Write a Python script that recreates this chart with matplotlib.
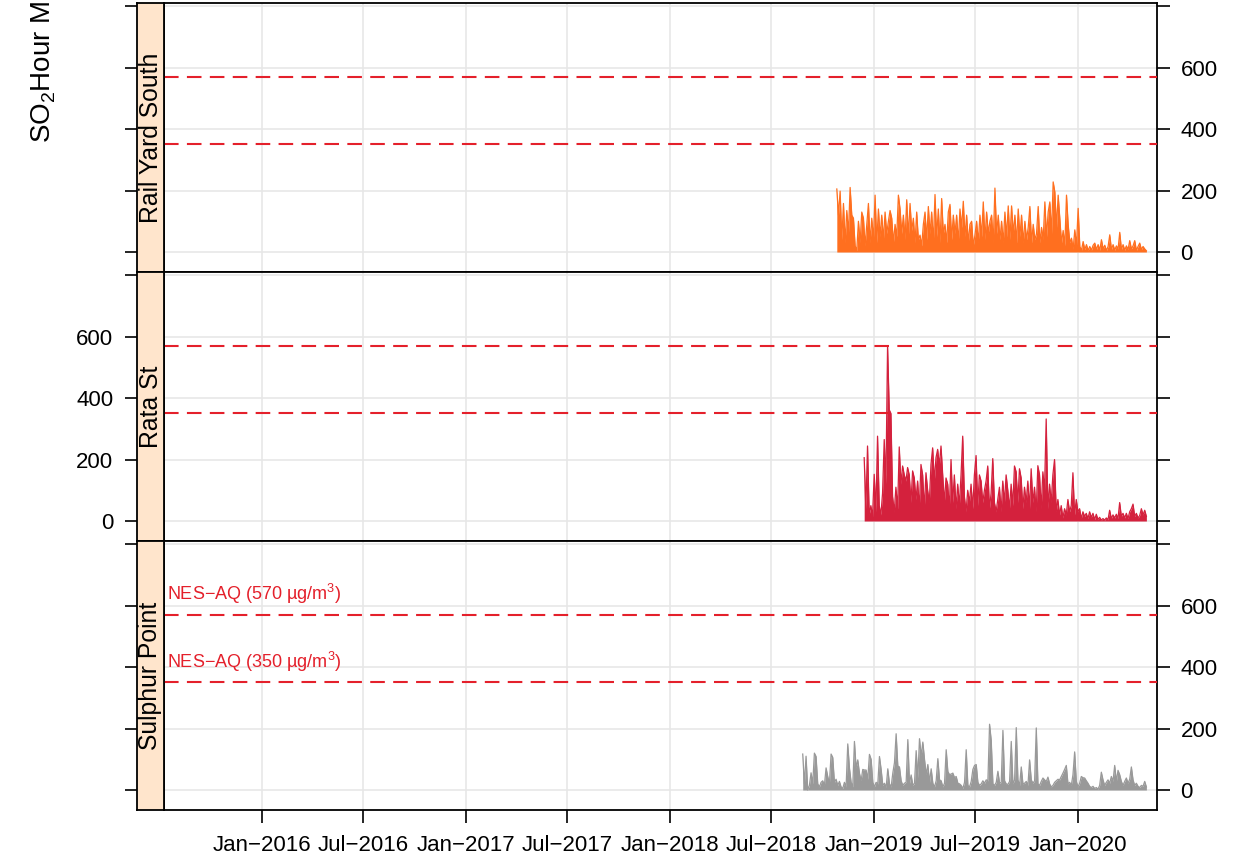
import numpy as np
import pandas as pd
import matplotlib
matplotlib.use("Agg")
import matplotlib.pyplot as plt

plt.rcParams['font.family'] = ['Liberation Sans', 'DejaVu Sans']
plt.rcParams['mathtext.fontset'] = 'custom'
plt.rcParams['mathtext.rm'] = 'Liberation Sans'
plt.rcParams['mathtext.it'] = 'Liberation Sans:italic'

# ---- data (~3 day samples) ----
sites = ["Rail Yard South", "Rata St", "Sulphur Point"]
colors = ["#FF6F1F", "#D4213D", "#999999"]
starts = ["2018-10-26", "2018-12-14", "2018-08-26"]
ends = ["2020-05-02", "2020-05-02", "2020-05-02"]

rail_yard = [205, 120, 198, 40, 158, 30, 135, 60, 210, 120, 110, 20, 5, 100, 30, 130, 110, 20, 90, 158,
             30, 110, 40, 185, 30, 140, 50, 120, 40, 130, 60, 100, 135, 110, 30, 90, 50, 185, 140, 60,
             120, 40, 170, 50, 158, 70, 110, 30, 130, 40, 55, 20, 90, 130, 40, 148, 60, 130, 30, 187,
             50, 140, 30, 174, 60, 90, 30, 130, 155, 40, 120, 60, 120, 30, 140, 80, 165, 50, 120, 30,
             90, 100, 20, 55, 100, 30, 120, 50, 163, 40, 130, 60, 100, 120, 30, 208, 60, 120, 40, 100,
             30, 130, 50, 150, 40, 150, 60, 120, 30, 140, 50, 120, 30, 100, 40, 80, 148, 30, 90, 40,
             60, 148, 30, 80, 40, 163, 50, 130, 163, 60, 228, 195, 80, 185, 110, 30, 70, 20, 185, 90,
             30, 45, 10, 72, 20, 142, 18, 5, 34, 8, 24, 5, 18, 6, 22, 29, 8, 24, 6, 40,
             10, 22, 5, 18, 56, 8, 24, 6, 20, 10, 64, 8, 24, 6, 20, 8, 37, 10, 20, 37,
             5, 18, 29, 8, 18, 10, 4]

rata_st = [206, 40, 244, 20, 50, 15, 152, 30, 276, 50, 20, 90, 265, 120, 570, 362, 350, 80, 30, 110,
           40, 241, 120, 179, 150, 130, 174, 150, 60, 163, 140, 70, 130, 40, 184, 150, 40, 157, 100, 60,
           184, 238, 130, 206, 233, 180, 244, 150, 60, 140, 120, 40, 200, 60, 150, 40, 120, 50, 150, 276,
           80, 30, 100, 60, 120, 40, 150, 213, 50, 150, 130, 60, 100, 130, 179, 40, 90, 203, 60, 30,
           70, 110, 30, 130, 60, 150, 100, 40, 120, 50, 179, 160, 60, 170, 140, 40, 110, 60, 130, 40,
           170, 60, 110, 30, 180, 150, 40, 160, 100, 332, 40, 120, 60, 150, 200, 30, 70, 20, 50, 10,
           40, 20, 70, 30, 50, 157, 20, 70, 30, 40, 8, 30, 15, 25, 8, 30, 12, 25, 5, 22,
           5, 12, 3, 8, 3, 10, 4, 35, 8, 20, 10, 22, 8, 60, 15, 25, 10, 25, 8, 30,
           40, 55, 15, 25, 10, 18, 40, 20, 35, 15]

sulphur_point = [117, 20, 110, 0, 15, 56, 20, 120, 109, 20, 10, 25, 30, 15, 72, 44, 20, 117, 106, 25,
                 35, 15, 28, 10, 5, 25, 10, 150, 72, 25, 10, 158, 72, 98, 55, 30, 67, 65, 65, 35,
                 116, 100, 25, 10, 25, 20, 109, 67, 15, 22, 8, 69, 20, 10, 55, 89, 183, 78, 75, 30,
                 15, 22, 25, 164, 22, 49, 15, 22, 128, 39, 167, 111, 156, 100, 50, 83, 25, 69, 22, 10,
                 30, 102, 33, 30, 10, 22, 131, 60, 50, 52, 55, 40, 44, 22, 20, 15, 5, 25, 131, 15,
                 10, 28, 67, 80, 83, 25, 15, 20, 30, 22, 33, 30, 214, 161, 20, 15, 25, 61, 22, 25,
                 194, 30, 20, 18, 28, 158, 20, 33, 203, 33, 15, 75, 20, 22, 28, 15, 98, 33, 22, 30,
                 202, 20, 15, 28, 39, 33, 28, 42, 20, 10, 15, 25, 30, 35, 33, 44, 55, 67, 80, 20,
                 25, 15, 50, 124, 28, 10, 22, 44, 40, 39, 30, 22, 12, 8, 12, 5, 8, 3, 15, 58,
                 33, 15, 25, 33, 22, 44, 28, 80, 28, 64, 50, 28, 15, 28, 39, 22, 35, 75, 33, 15,
                 22, 12, 8, 15, 12, 28, 10]

series = [rail_yard, rata_st, sulphur_point]

limits = [570, 350]
limit_labels = ["NES\u2212AQ (570 \u00b5g/m$^3$)", "NES\u2212AQ (350 \u00b5g/m$^3$)"]

tick_dates = ["2016-01-01", "2016-07-01", "2017-01-01", "2017-07-01", "2018-01-01",
              "2018-07-01", "2019-01-01", "2019-07-01", "2020-01-01"]
tick_labels = ["Jan\u22122016", "Jul\u22122016", "Jan\u22122017", "Jul\u22122017", "Jan\u22122018",
               "Jul\u22122018", "Jan\u22122019", "Jul\u22122019", "Jan\u22122020"]
y_ticks = [0, 200, 400, 600, 800]
y_labels = ["0", "200", "400", "600", ""]

# ---- layout (pixels) ----
W, H = 1255, 865
fig = plt.figure(figsize=(W / 100, H / 100), dpi=100)

left, right, strip_left = 164, 1157, 137
tops = [3, 272, 541]
bottoms = [272, 541, 810]
xlim = (pd.Timestamp("2015-07-10"), pd.Timestamp("2020-05-21"))
ylim = (-65, 810)
tick_fs = 16

for i in range(3):
    rect = [left / W, 1 - bottoms[i] / H, (right - left) / W, (bottoms[i] - tops[i]) / H]
    ax = fig.add_axes(rect)
    srect = [strip_left / W, 1 - bottoms[i] / H, (left - strip_left) / W, (bottoms[i] - tops[i]) / H]
    sax = fig.add_axes(srect)

    dates = pd.date_range(starts[i], ends[i], periods=len(series[i]))
    ax.fill_between(dates, 0, series[i], color=colors[i], lw=0, zorder=2)
    ax.plot(dates, series[i], color=colors[i], lw=0.9, zorder=3)

    for j, lim in enumerate(limits):
        ax.axhline(lim, color="#E4202B", lw=1.5, ls=(0, (7, 4)), zorder=4)
        if i == 2:
            ax.text(pd.Timestamp("2015-07-16"), lim + 28, limit_labels[j], color="#E4202B",
                    fontsize=13, ha="left", va="bottom")

    ax.set_xlim(xlim)
    ax.set_ylim(ylim)
    ax.set_xticks(pd.to_datetime(tick_dates))
    ax.set_yticks(y_ticks)
    ax.grid(True, color="#E6E6E6", lw=1.1, zorder=0)
    ax.set_axisbelow(True)
    for sp in ax.spines.values():
        sp.set_linewidth(1.3)

    ax.tick_params(axis="y", left=False, labelleft=False, right=True, length=9, width=1.2,
                   labelsize=tick_fs, pad=8)
    if i in (0, 2):
        ax.set_yticklabels(y_labels)
        ax.tick_params(axis="y", labelright=True)
    else:
        ax.tick_params(axis="y", labelright=False)

    if i == 2:
        ax.set_xticklabels(tick_labels)
        ax.tick_params(axis="x", length=9, width=1.2, labelsize=tick_fs, pad=9)
    else:
        ax.tick_params(axis="x", bottom=False, labelbottom=False)

    # strip
    sax.set_facecolor("#FFE5CC")
    sax.set_xlim(0, 1)
    sax.set_ylim(ylim)
    sax.set_xticks([])
    sax.set_yticks(y_ticks)
    sax.tick_params(axis="y", length=9, width=1.2, labelsize=tick_fs, pad=8,
                    labelleft=(i == 1))
    if i == 1:
        sax.set_yticklabels(y_labels)
    for sp in sax.spines.values():
        sp.set_linewidth(1.3)
    sax.text(0.5, 0.5, sites[i], rotation=90, ha="center", va="center",
             fontsize=17.8, transform=sax.transAxes)

fig.text(42 / W, 1 - 143 / H, "SO$_2$Hour Mean (\u00b5g/m$^3$)", rotation=90,
         ha="center", va="bottom", fontsize=20)

fig.savefig("out.png", dpi=100)
